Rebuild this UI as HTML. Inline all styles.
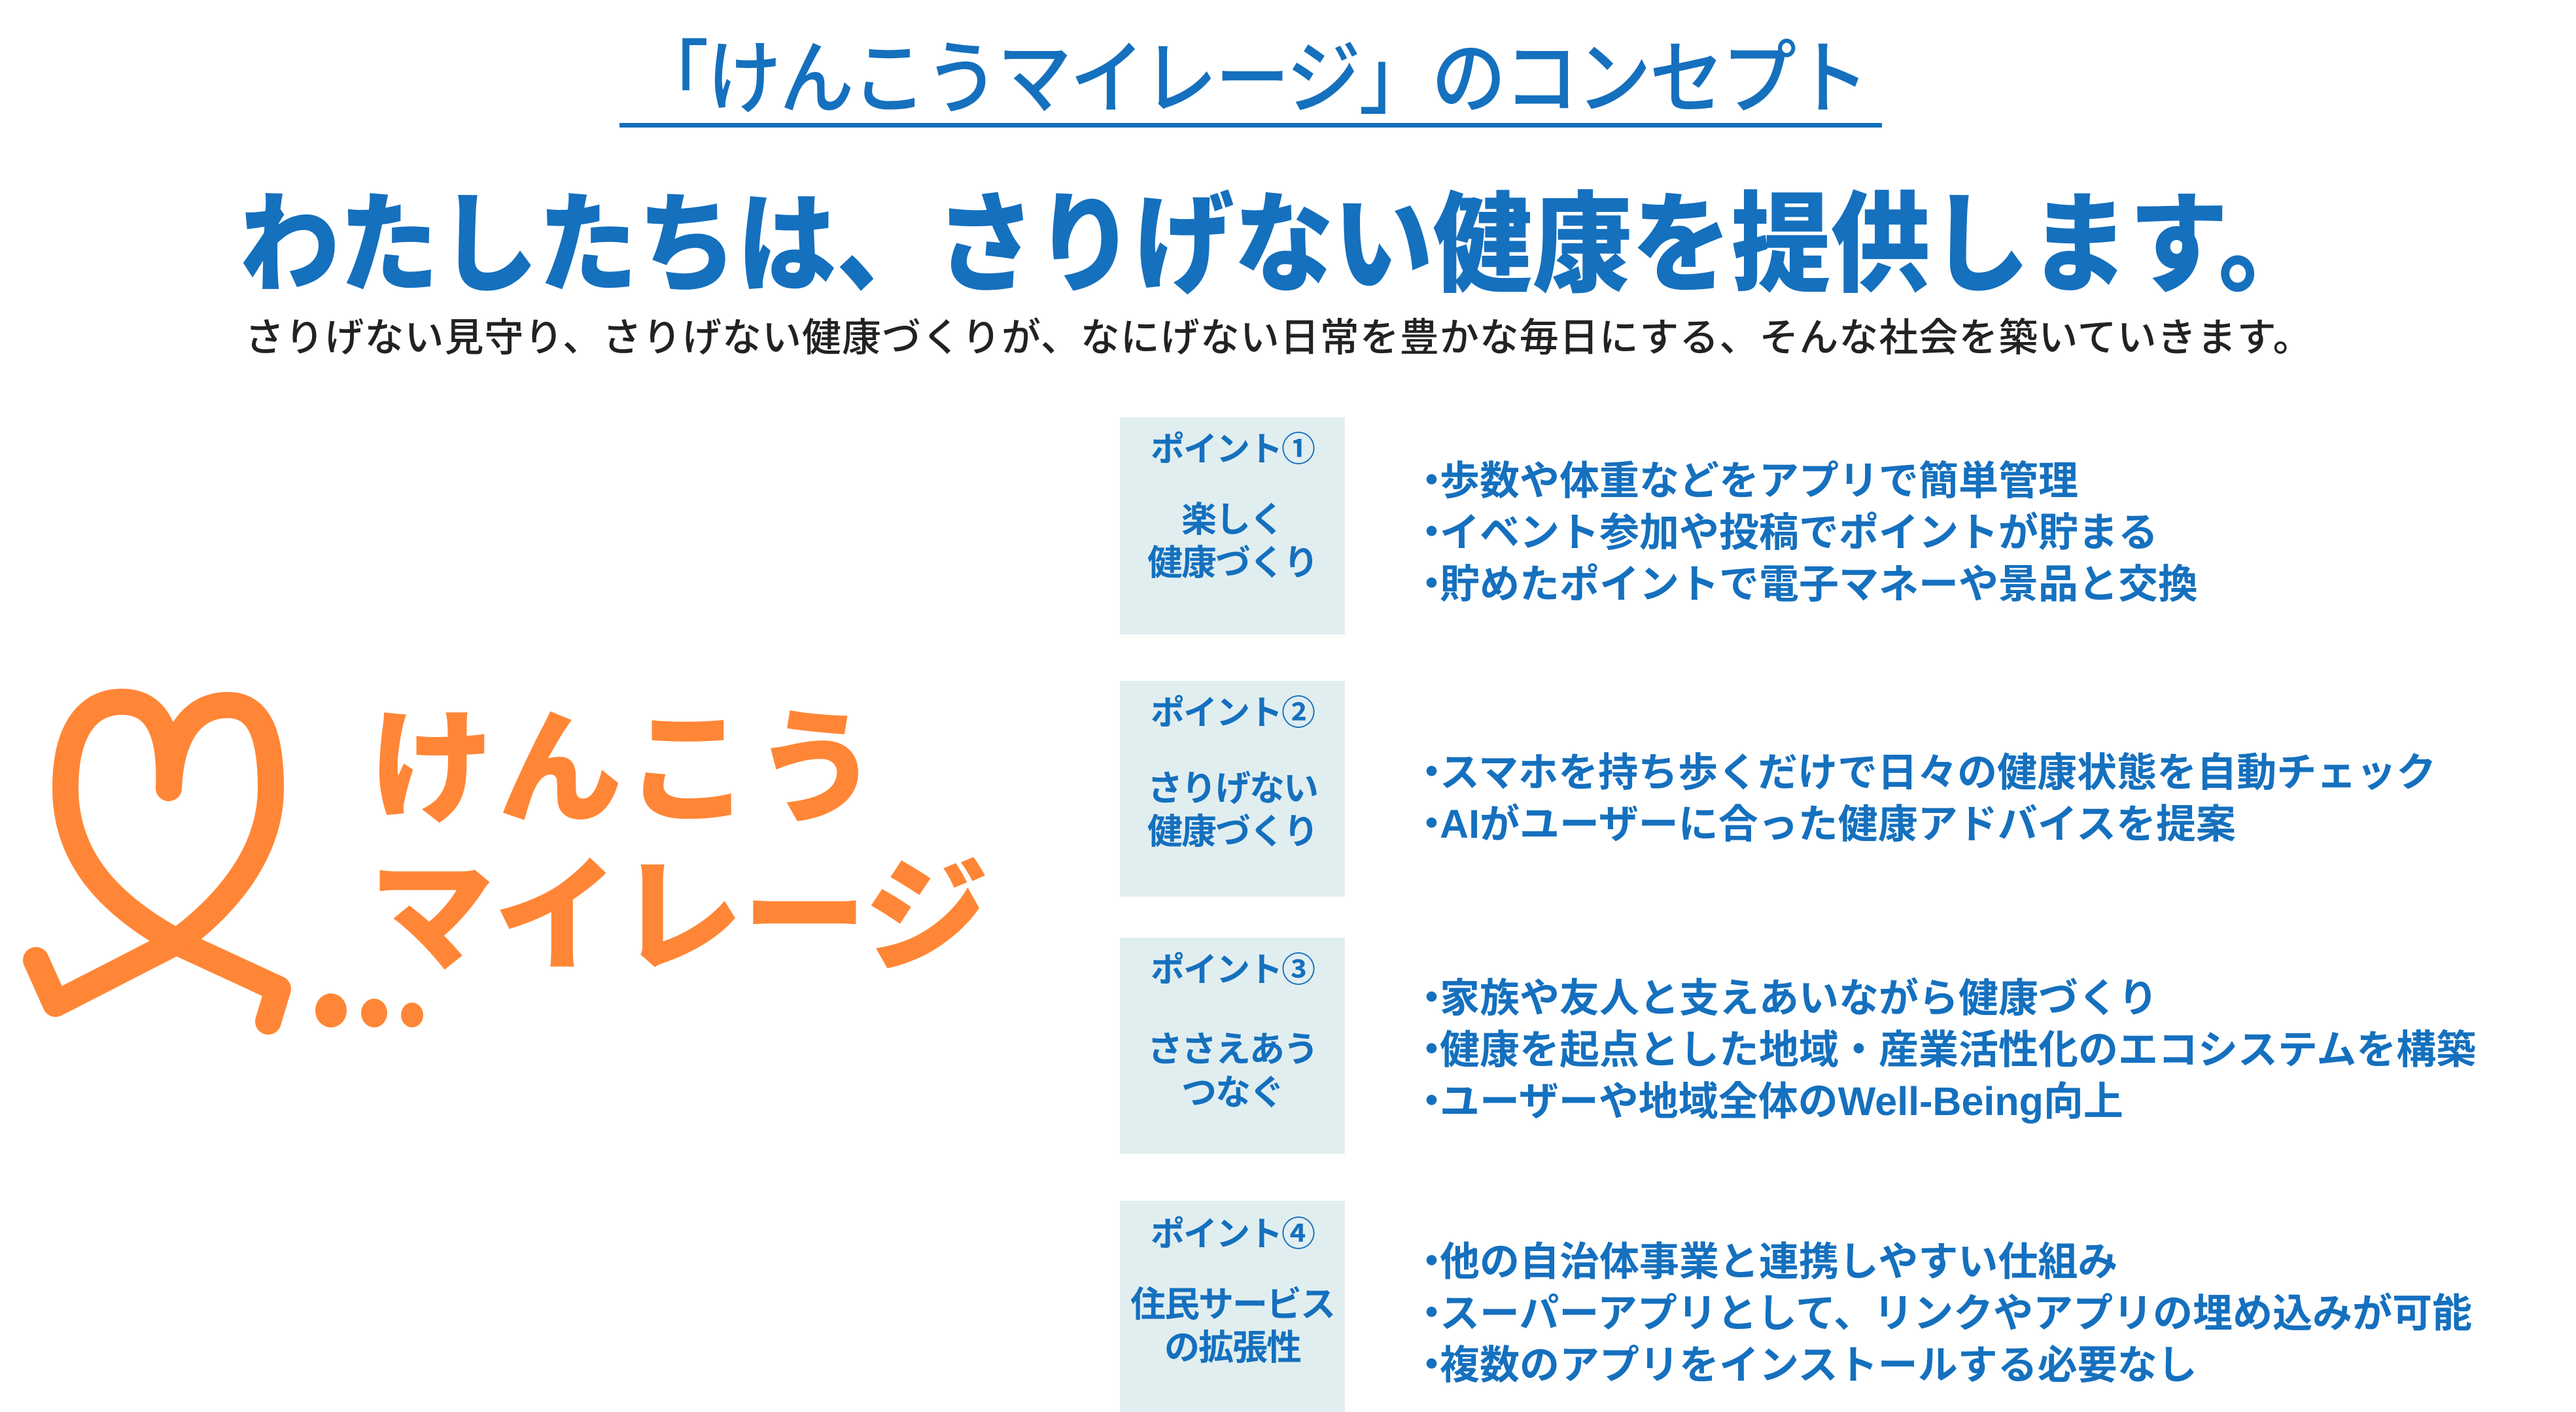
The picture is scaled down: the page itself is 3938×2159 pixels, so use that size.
<!DOCTYPE html>
<html><head><meta charset="utf-8">
<style>
html,body{margin:0;padding:0;}
body{width:3938px;height:2159px;position:relative;background:#fff;overflow:hidden;font-family:"Liberation Sans","Noto Sans CJK JP",sans-serif;}
.a{position:absolute;white-space:nowrap;}
.title{left:900px;top:52px;width:2024px;text-align:center;font-size:114px;color:#1570BE;line-height:140px;font-weight:500;letter-spacing:-3px;transform:scaleY(1.08);}
.uline{left:947px;top:188px;width:1930px;height:7px;background:#1570BE;}
.slogan{left:300px;top:285px;width:3310px;text-align:center;font-size:152px;font-weight:900;color:#1570BE;line-height:180px;letter-spacing:0px;transform:scaleY(1.1);}
.sub{left:320px;top:482px;width:3270px;text-align:center;font-size:60px;color:#222;line-height:70px;font-weight:500;letter-spacing:1px;}
.box{position:absolute;left:1712px;width:344px;background:#E1EEF0;color:#1570BE;font-weight:700;text-align:center;}
.box .lb{position:absolute;left:0;width:100%;font-size:52px;line-height:60px;letter-spacing:-2px;}
.box .bd{position:absolute;left:0;width:100%;font-size:54px;line-height:66px;letter-spacing:-2px;}
.bl{position:absolute;left:2158px;color:#1570BE;font-weight:700;font-size:61px;line-height:79px;white-space:nowrap;letter-spacing:0px;}
.bl span{letter-spacing:-18px;}
.logo{color:#FF8636;font-weight:900;font-size:190px;line-height:210px;letter-spacing:6px;}
</style></head><body>
<div class="a title">「けんこうマイレージ」のコンセプト</div>
<div class="a uline"></div>
<div class="a slogan">わたしたちは、さりげない健康を提供します。</div>
<div class="a sub">さりげない見守り、さりげない健康づくりが、なにげない日常を豊かな毎日にする、そんな社会を築いていきます。</div>

<div class="box" style="top:638px;height:332px;">
 <div class="lb" style="top:20px;">ポイント①</div>
 <div class="bd" style="top:124px;">楽しく<br>健康づくり</div>
</div>
<div class="box" style="top:1041px;height:330px;">
 <div class="lb" style="top:20px;">ポイント②</div>
 <div class="bd" style="top:132px;">さりげない<br>健康づくり</div>
</div>
<div class="box" style="top:1434px;height:330px;">
 <div class="lb" style="top:20px;">ポイント③</div>
 <div class="bd" style="top:138px;">ささえあう<br>つなぐ</div>
</div>
<div class="box" style="top:1836px;height:323px;">
 <div class="lb" style="top:22px;">ポイント④</div>
 <div class="bd" style="top:126px;">住民サービス<br>の拡張性</div>
</div>

<div class="bl" style="top:696px;"><span>・</span>歩数や体重などをアプリで簡単管理<br><span>・</span>イベント参加や投稿でポイントが貯まる<br><span>・</span>貯めたポイントで電子マネーや景品と交換</div>
<div class="bl" style="top:1142px;"><span>・</span>スマホを持ち歩くだけで日々の健康状態を自動チェック<br><span>・</span>AIがユーザーに合った健康アドバイスを提案</div>
<div class="bl" style="top:1487px;"><span>・</span>家族や友人と支えあいながら健康づくり<br><span>・</span>健康を起点とした地域・産業活性化のエコシステムを構築<br><span>・</span>ユーザーや地域全体のWell-Being向上</div>
<div class="bl" style="top:1890px;"><span>・</span>他の自治体事業と連携しやすい仕組み<br><span>・</span>スーパーアプリとして、リンクやアプリの埋め込みが可能<br><span>・</span>複数のアプリをインストールする必要なし</div>

<svg class="a" style="left:0;top:0;" width="1700" height="2159" viewBox="0 0 1700 2159">
 <g fill="none" stroke="#FF8636" stroke-width="40" stroke-linecap="round" stroke-linejoin="round">
  <path d="M258,1205 C262,1110 235,1073 186,1073 C135,1073 100,1115 100,1205 C100,1310 165,1385 280,1445 L425,1512 L410,1562"/>
  <path d="M258,1205 C262,1115 300,1078 348,1078 C395,1078 414,1120 414,1205 C414,1305 345,1385 270,1440 L85,1535 L55,1468"/>
 </g>
 <g fill="#FF8636">
  <ellipse cx="506" cy="1545" rx="24" ry="26"/>
  <ellipse cx="572" cy="1549" rx="20" ry="22"/>
  <ellipse cx="630" cy="1552" rx="17" ry="19"/>
 </g>
</svg>
<div class="a logo" style="left:565px;top:1072px;">けんこう</div>
<div class="a logo" style="left:565px;top:1298px;letter-spacing:0px;">マイレージ</div>
</body></html>
